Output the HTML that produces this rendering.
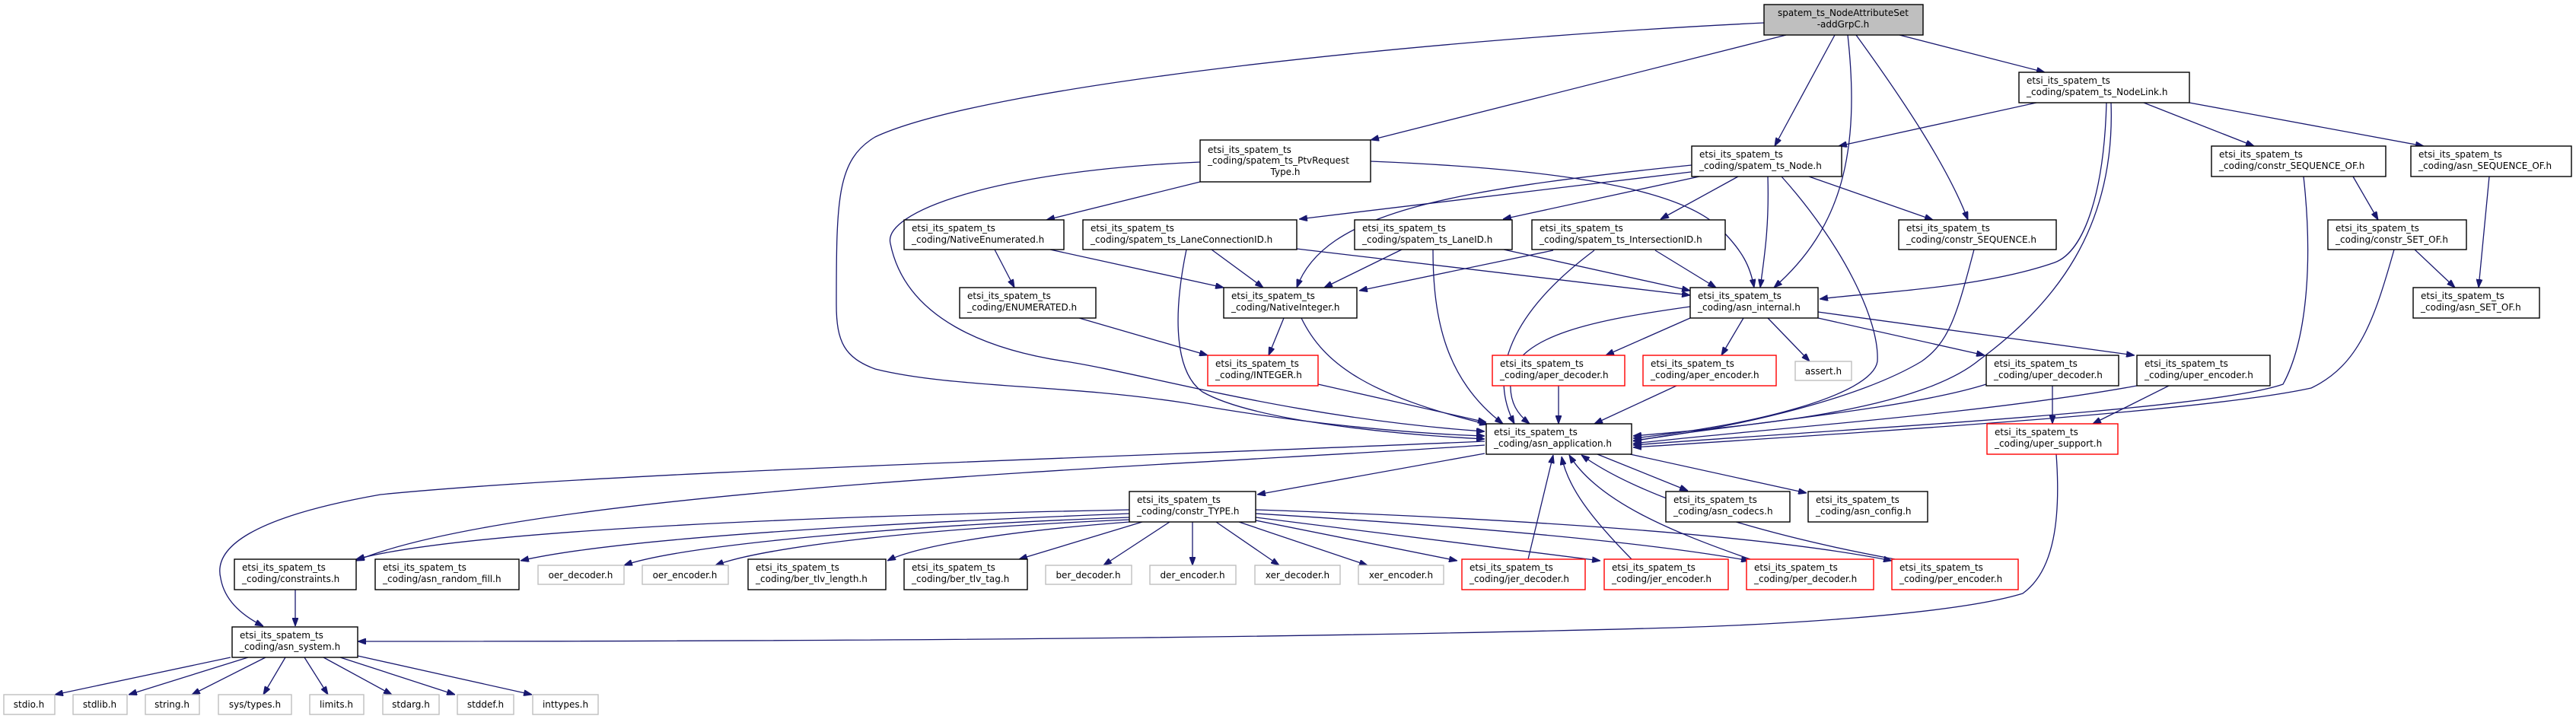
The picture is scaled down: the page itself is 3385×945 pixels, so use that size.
<!DOCTYPE html>
<html><head><meta charset="utf-8"><style>
html,body{margin:0;padding:0;background:#fff;}
svg{display:block;}
text{font-family:"DejaVu Sans","Liberation Sans",sans-serif;font-size:12px;fill:#000;}
.e{fill:none;stroke:#191970;stroke-width:1.3;marker-end:url(#a);}
.b{fill:#fff;stroke:#000;stroke-width:1.4;}
.g{fill:#fff;stroke:#bfbfbf;stroke-width:1.4;}
.r{fill:#fff;stroke:#ff0000;stroke-width:1.4;}
</style></head><body>
<svg width="3385" height="945" viewBox="0 0 3385 945" xmlns="http://www.w3.org/2000/svg">
<defs><marker id="a" markerUnits="userSpaceOnUse" markerWidth="11" markerHeight="8" refX="11" refY="4" orient="auto"><path d="M0,0 L11,4 L0,8 z" fill="#191970" stroke="#191970"/></marker></defs>
<g>
<path class="e" d="M2318,30 C1900,50 1300,110 1150,180 C1100,210 1099,260 1099,400 C1099,450 1110,470 1150,485 C1250,510 1400,505 1560,530 C1700,555 1850,570 1951,573"/>
<path class="e" d="M2347,46 L1801,184"/>
<path class="e" d="M2411,46 L2332,192"/>
<path class="e" d="M2428,46 C2445,200 2420,300 2331,378"/>
<path class="e" d="M2439,46 C2500,130 2560,220 2586,289"/>
<path class="e" d="M2496,46 L2687,95"/>
<path class="e" d="M2676,135 L2416,192"/>
<path class="e" d="M2817,135 L2962,192"/>
<path class="e" d="M2877,135 L3185,192"/>
<path class="e" d="M2768,135 C2765,250 2740,330 2700,345 C2600,380 2450,385 2391,393"/>
<path class="e" d="M2774,135 C2780,300 2700,400 2601,473 C2520,540 2300,560 2146,573"/>
<path class="e" d="M2222,226 L1707,288"/>
<path class="e" d="M2233,232 L1975,288"/>
<path class="e" d="M2284,232 L2182,288"/>
<path class="e" d="M2223,217 C1900,250 1740,280 1704,378"/>
<path class="e" d="M2323,232 C2325,300 2318,340 2313,378"/>
<path class="e" d="M2377,232 L2540,289"/>
<path class="e" d="M2341,232 C2420,320 2470,420 2467,475 C2460,520 2300,560 2146,576"/>
<path class="e" d="M1577,239 L1375,289"/>
<path class="e" d="M1801,212 C2000,220 2200,240 2260,300 C2290,330 2300,350 2305,378"/>
<path class="e" d="M1577,213 C1300,225 1160,280 1170,320 C1190,420 1300,460 1400,475 C1500,490 1700,550 1951,567"/>
<path class="e" d="M1307,328 L1333,378"/>
<path class="e" d="M1380,328 L1608,378"/>
<path class="e" d="M1418,418 L1587,467"/>
<path class="e" d="M1592,328 L1660,378"/>
<path class="e" d="M1704,327 L2221,388"/>
<path class="e" d="M1559,328 C1540,420 1545,490 1580,515 C1650,555 1850,572 1951,577"/>
<path class="e" d="M1842,328 L1740,378"/>
<path class="e" d="M1976,328 L2221,382"/>
<path class="e" d="M1883,328 C1883,420 1900,500 1975,557"/>
<path class="e" d="M2041,329 L1786,382"/>
<path class="e" d="M2175,329 L2255,378"/>
<path class="e" d="M2095,329 C2000,400 1950,480 1990,557"/>
<path class="e" d="M1687,418 L1667,467"/>
<path class="e" d="M1710,418 C1740,480 1800,520 1955,558"/>
<path class="e" d="M1732,505 L1953,555"/>
<path class="e" d="M2221,418 L2110,467"/>
<path class="e" d="M2291,418 L2262,467"/>
<path class="e" d="M2323,418 L2378,475"/>
<path class="e" d="M2389,418 L2608,467"/>
<path class="e" d="M2389,410 L2805,467"/>
<path class="e" d="M2221,403 C2100,420 1990,440 1985,500 C1983,530 1995,545 2010,557"/>
<path class="e" d="M2048,507 L2048,557"/>
<path class="e" d="M2203,507 L2095,557"/>
<path class="e" d="M2697,507 L2697,557"/>
<path class="e" d="M2610,505 C2500,540 2250,560 2146,580"/>
<path class="e" d="M2850,507 L2750,557"/>
<path class="e" d="M2808,507 C2600,545 2300,565 2146,583"/>
<path class="e" d="M2702,597 C2708,680 2700,750 2658,780 C2560,810 2300,822 2200,825 C1800,836 1300,843 470,843"/>
<path class="e" d="M3092,232 L3125,289"/>
<path class="e" d="M3027,232 C3040,350 3030,450 3000,505 C2900,540 2400,565 2146,585"/>
<path class="e" d="M3271,232 L3257,378"/>
<path class="e" d="M3173,328 L3226,378"/>
<path class="e" d="M3146,328 C3120,420 3100,480 3037,510 C2900,540 2500,565 2146,588"/>
<path class="e" d="M2594,328 C2570,420 2560,450 2525,475 C2450,520 2300,560 2146,579"/>
<path class="e" d="M1951,596 L1652,650"/>
<path class="e" d="M2099,597 L2218,645"/>
<path class="e" d="M2142,597 L2374,648"/>
<path class="e" d="M1951,585 C1600,610 700,640 468,737"/>
<path class="e" d="M1951,580 C1500,600 800,620 500,650 C330,680 280,720 290,760 C295,790 320,810 346,823"/>
<path class="e" d="M1484,670 C1000,680 600,700 468,735"/>
<path class="e" d="M1484,675 C1100,690 800,710 684,737"/>
<path class="e" d="M1484,680 C1200,690 900,715 820,743"/>
<path class="e" d="M1484,683 C1200,695 1000,720 940,743"/>
<path class="e" d="M1484,686 C1300,700 1200,720 1166,737"/>
<path class="e" d="M1501,686 L1339,735"/>
<path class="e" d="M1537,686 L1450,743"/>
<path class="e" d="M1567,686 L1567,743"/>
<path class="e" d="M1598,686 L1681,743"/>
<path class="e" d="M1628,686 L1797,743"/>
<path class="e" d="M1650,684 L1915,737"/>
<path class="e" d="M1650,680 L2103,737"/>
<path class="e" d="M1650,675 C1900,690 2150,710 2299,737"/>
<path class="e" d="M1650,670 C1950,680 2300,700 2486,737"/>
<path class="e" d="M2008,735 L2041,598"/>
<path class="e" d="M2144,735 C2090,680 2060,640 2052,600"/>
<path class="e" d="M2300,735 C2200,700 2100,660 2062,598"/>
<path class="e" d="M2490,735 C2300,700 2150,650 2078,598"/>
<path class="e" d="M388,775 L388,823"/>
<path class="e" d="M303,864 L72,913"/>
<path class="e" d="M326,864 L169,913"/>
<path class="e" d="M349,864 L252,913"/>
<path class="e" d="M375,864 L346,913"/>
<path class="e" d="M400,864 L431,913"/>
<path class="e" d="M425,864 L515,913"/>
<path class="e" d="M447,864 L598,913"/>
<path class="e" d="M470,862 L699,913"/>
</g>
<g>
<rect x="2318" y="6" width="209" height="40" fill="#bfbfbf" stroke="#000" stroke-width="1.4"/>
<text x="2422" y="21" text-anchor="middle">spatem_ts_NodeAttributeSet</text>
<text x="2422" y="36" text-anchor="middle">-addGrpC.h</text>

<rect class="b" x="2653" y="95" width="224" height="40"/><text x="2663" y="110">etsi_its_spatem_ts</text><text x="2663" y="125">_coding/spatem_ts_NodeLink.h</text>

<rect class="b" x="1577" y="184" width="224" height="55"/><text x="1587" y="201">etsi_its_spatem_ts</text><text x="1587" y="215">_coding/spatem_ts_PtvRequest</text><text x="1689" y="230" text-anchor="middle">Type.h</text>

<rect class="b" x="2223" y="192" width="197" height="40"/><text x="2233" y="207">etsi_its_spatem_ts</text><text x="2233" y="222">_coding/spatem_ts_Node.h</text>
<rect class="b" x="2906" y="192" width="229" height="40"/><text x="2916" y="207">etsi_its_spatem_ts</text><text x="2916" y="222">_coding/constr_SEQUENCE_OF.h</text>
<rect class="b" x="3168" y="192" width="211" height="40"/><text x="3178" y="207">etsi_its_spatem_ts</text><text x="3178" y="222">_coding/asn_SEQUENCE_OF.h</text>

<rect class="b" x="1188" y="289" width="210" height="39"/><text x="1198" y="304">etsi_its_spatem_ts</text><text x="1198" y="319">_coding/NativeEnumerated.h</text>
<rect class="b" x="1423" y="289" width="281" height="39"/><text x="1433" y="304">etsi_its_spatem_ts</text><text x="1433" y="319">_coding/spatem_ts_LaneConnectionID.h</text>
<rect class="b" x="1780" y="289" width="207" height="39"/><text x="1790" y="304">etsi_its_spatem_ts</text><text x="1790" y="319">_coding/spatem_ts_LaneID.h</text>
<rect class="b" x="2013" y="289" width="254" height="39"/><text x="2023" y="304">etsi_its_spatem_ts</text><text x="2023" y="319">_coding/spatem_ts_IntersectionID.h</text>
<rect class="b" x="2495" y="289" width="207" height="39"/><text x="2505" y="304">etsi_its_spatem_ts</text><text x="2505" y="319">_coding/constr_SEQUENCE.h</text>
<rect class="b" x="3059" y="289" width="182" height="39"/><text x="3069" y="304">etsi_its_spatem_ts</text><text x="3069" y="319">_coding/constr_SET_OF.h</text>

<rect class="b" x="1261" y="378" width="179" height="40"/><text x="1271" y="393">etsi_its_spatem_ts</text><text x="1271" y="408">_coding/ENUMERATED.h</text>
<rect class="b" x="1608" y="378" width="175" height="40"/><text x="1618" y="393">etsi_its_spatem_ts</text><text x="1618" y="408">_coding/NativeInteger.h</text>
<rect class="b" x="2221" y="378" width="168" height="40"/><text x="2231" y="393">etsi_its_spatem_ts</text><text x="2231" y="408">_coding/asn_internal.h</text>
<rect class="b" x="3171" y="378" width="166" height="40"/><text x="3181" y="393">etsi_its_spatem_ts</text><text x="3181" y="408">_coding/asn_SET_OF.h</text>

<rect class="r" x="1587" y="467" width="145" height="40"/><text x="1597" y="482">etsi_its_spatem_ts</text><text x="1597" y="497">_coding/INTEGER.h</text>
<rect class="r" x="1961" y="467" width="174" height="40"/><text x="1971" y="482">etsi_its_spatem_ts</text><text x="1971" y="497">_coding/aper_decoder.h</text>
<rect class="r" x="2159" y="467" width="175" height="40"/><text x="2169" y="482">etsi_its_spatem_ts</text><text x="2169" y="497">_coding/aper_encoder.h</text>
<rect class="g" x="2359" y="475" width="74" height="25"/><text x="2396" y="492" text-anchor="middle">assert.h</text>
<rect class="b" x="2610" y="467" width="174" height="40"/><text x="2620" y="482">etsi_its_spatem_ts</text><text x="2620" y="497">_coding/uper_decoder.h</text>
<rect class="b" x="2808" y="467" width="175" height="40"/><text x="2818" y="482">etsi_its_spatem_ts</text><text x="2818" y="497">_coding/uper_encoder.h</text>

<rect class="b" x="1953" y="557" width="191" height="40"/><text x="1963" y="572">etsi_its_spatem_ts</text><text x="1963" y="587">_coding/asn_application.h</text>
<rect class="r" x="2611" y="557" width="172" height="40"/><text x="2621" y="572">etsi_its_spatem_ts</text><text x="2621" y="587">_coding/uper_support.h</text>

<rect class="b" x="1484" y="646" width="166" height="40"/><text x="1494" y="661">etsi_its_spatem_ts</text><text x="1494" y="676">_coding/constr_TYPE.h</text>
<rect class="b" x="2189" y="646" width="163" height="40"/><text x="2199" y="661">etsi_its_spatem_ts</text><text x="2199" y="676">_coding/asn_codecs.h</text>
<rect class="b" x="2376" y="646" width="157" height="40"/><text x="2386" y="661">etsi_its_spatem_ts</text><text x="2386" y="676">_coding/asn_config.h</text>

<rect class="b" x="308" y="735" width="160" height="40"/><text x="318" y="750">etsi_its_spatem_ts</text><text x="318" y="765">_coding/constraints.h</text>
<rect class="b" x="493" y="735" width="189" height="40"/><text x="503" y="750">etsi_its_spatem_ts</text><text x="503" y="765">_coding/asn_random_fill.h</text>
<rect class="g" x="707" y="743" width="113" height="25"/><text x="763" y="760" text-anchor="middle">oer_decoder.h</text>
<rect class="g" x="844" y="743" width="113" height="25"/><text x="900" y="760" text-anchor="middle">oer_encoder.h</text>
<rect class="b" x="983" y="735" width="181" height="40"/><text x="993" y="750">etsi_its_spatem_ts</text><text x="993" y="765">_coding/ber_tlv_length.h</text>
<rect class="b" x="1188" y="735" width="162" height="40"/><text x="1198" y="750">etsi_its_spatem_ts</text><text x="1198" y="765">_coding/ber_tlv_tag.h</text>
<rect class="g" x="1374" y="743" width="113" height="25"/><text x="1430" y="760" text-anchor="middle">ber_decoder.h</text>
<rect class="g" x="1511" y="743" width="113" height="25"/><text x="1567" y="760" text-anchor="middle">der_encoder.h</text>
<rect class="g" x="1649" y="743" width="112" height="25"/><text x="1705" y="760" text-anchor="middle">xer_decoder.h</text>
<rect class="g" x="1785" y="743" width="112" height="25"/><text x="1841" y="760" text-anchor="middle">xer_encoder.h</text>
<rect class="r" x="1921" y="735" width="162" height="40"/><text x="1931" y="750">etsi_its_spatem_ts</text><text x="1931" y="765">_coding/jer_decoder.h</text>
<rect class="r" x="2108" y="735" width="163" height="40"/><text x="2118" y="750">etsi_its_spatem_ts</text><text x="2118" y="765">_coding/jer_encoder.h</text>
<rect class="r" x="2295" y="735" width="167" height="40"/><text x="2305" y="750">etsi_its_spatem_ts</text><text x="2305" y="765">_coding/per_decoder.h</text>
<rect class="r" x="2486" y="735" width="166" height="40"/><text x="2496" y="750">etsi_its_spatem_ts</text><text x="2496" y="765">_coding/per_encoder.h</text>

<rect class="b" x="305" y="824" width="165" height="40"/><text x="315" y="839">etsi_its_spatem_ts</text><text x="315" y="854">_coding/asn_system.h</text>

<rect class="g" x="5" y="913" width="67" height="26"/><text x="38" y="930" text-anchor="middle">stdio.h</text>
<rect class="g" x="96" y="913" width="71" height="26"/><text x="131" y="930" text-anchor="middle">stdlib.h</text>
<rect class="g" x="191" y="913" width="71" height="26"/><text x="226" y="930" text-anchor="middle">string.h</text>
<rect class="g" x="287" y="913" width="96" height="26"/><text x="335" y="930" text-anchor="middle">sys/types.h</text>
<rect class="g" x="407" y="913" width="71" height="26"/><text x="442" y="930" text-anchor="middle">limits.h</text>
<rect class="g" x="503" y="913" width="74" height="26"/><text x="540" y="930" text-anchor="middle">stdarg.h</text>
<rect class="g" x="601" y="913" width="74" height="26"/><text x="638" y="930" text-anchor="middle">stddef.h</text>
<rect class="g" x="700" y="913" width="86" height="26"/><text x="743" y="930" text-anchor="middle">inttypes.h</text>
</g>
</svg>
</body></html>
